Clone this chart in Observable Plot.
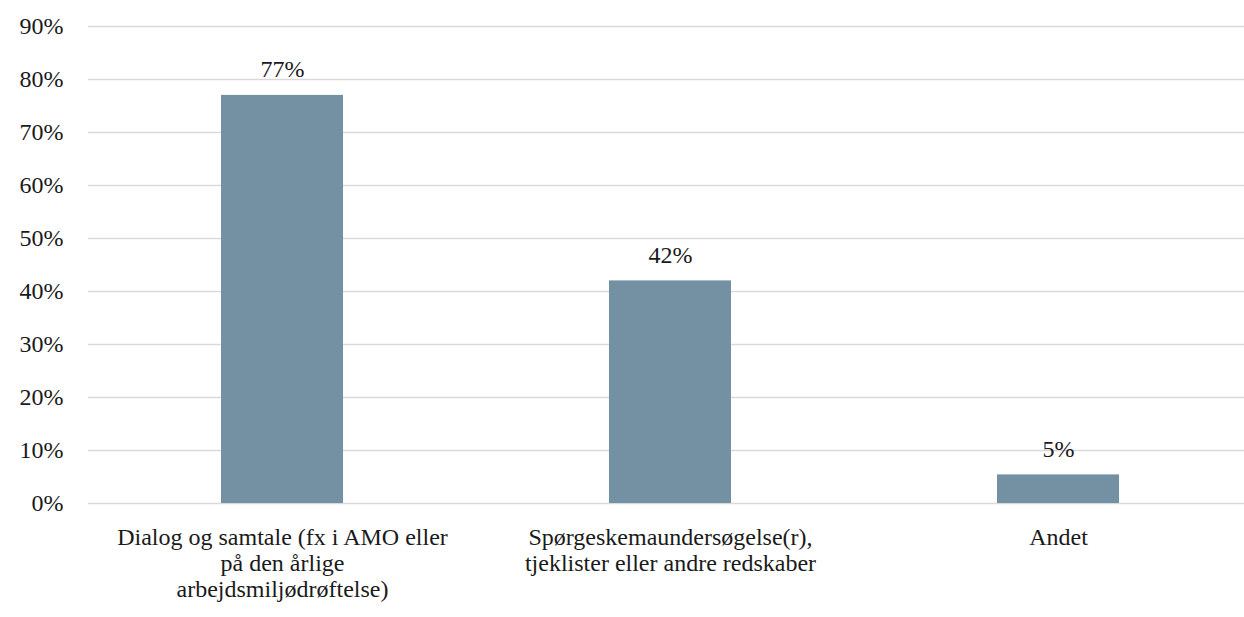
<!DOCTYPE html>
<html>
<head>
<meta charset="utf-8">
<script src="https://cdn.jsdelivr.net/npm/d3@7"></script>
<script src="https://cdn.jsdelivr.net/npm/@observablehq/plot@0.6"></script>
<style>
  html, body { margin: 0; padding: 0; background: #fff; }
  #chart svg { display: block; }
</style>
</head>
<body>
<div id="chart"></div>
<script>
const categories = [
  "Dialog og samtale (fx i AMO eller på den årlige arbejdsmiljødrøftelse)",
  "Spørgeskemaundersøgelse(r), tjeklister eller andre redskaber",
  "Andet"
];
const tickLabels = [
  "Dialog og samtale (fx i AMO eller\npå den årlige\narbejdsmiljødrøftelse)",
  "Spørgeskemaundersøgelse(r),\ntjeklister eller andre redskaber",
  "Andet"
];
const values = [77, 42, 5.4];
const valueLabels = ["77%", "42%", "5%"];
const yTicks = [0, 10, 20, 30, 40, 50, 60, 70, 80, 90];

const data = categories.map((c, i) => ({cat: c, value: values[i], label: valueLabels[i], tick: tickLabels[i]}));
const FONT = "'Liberation Serif', serif";

const chart = Plot.plot({
  width: 1244,
  height: 617,
  marginLeft: 88,
  marginRight: 0,
  marginTop: 26,
  marginBottom: 114,
  style: {fontFamily: FONT, background: "#fff"},
  x: {domain: categories, range: [88, 1252], paddingInner: 0.686, paddingOuter: 0.343, axis: null},
  y: {domain: [0, 90], ticks: yTicks, tickFormat: d => d + "%", label: null},
  marks: [
    Plot.ruleY(yTicks, {stroke: "#d9d9d9", strokeWidth: 1.5}),
    Plot.axisY({ticks: yTicks, tickFormat: d => d + "%", tickSize: 0, tickPadding: 25, fontSize: 24, fontFamily: FONT, label: null, fill: "#1a1a1a"}),
    Plot.barY(data, {x: "cat", y: "value", fill: "#7491a3"}),
    Plot.text(data, {x: "cat", y: "value", text: "label", lineAnchor: "bottom", dy: -18, fontSize: 24, fontFamily: FONT, fill: "#1a1a1a"}),
    Plot.text(data, {x: "cat", y: 0, text: "tick", lineAnchor: "top", dy: 23, fontSize: 24, fontFamily: FONT, lineHeight: 1.09, fill: "#1a1a1a"})
  ]
});
document.getElementById("chart").appendChild(chart);
</script>
</body>
</html>
